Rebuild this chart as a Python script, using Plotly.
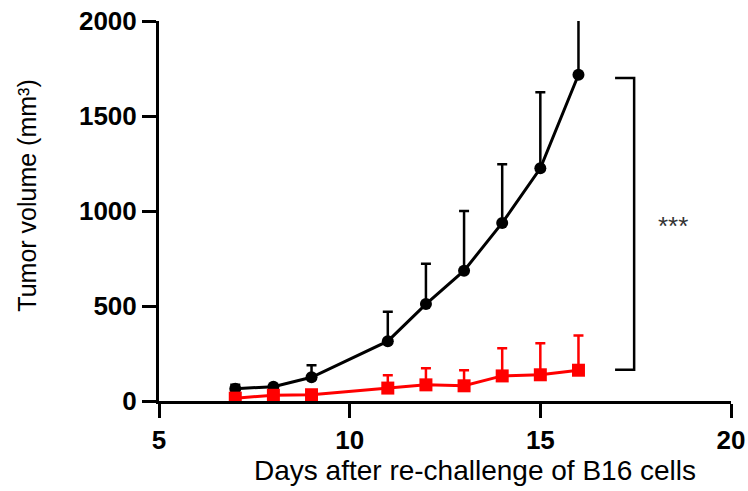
import plotly.graph_objects as go

days = [7, 8, 9, 11, 12, 13, 14, 15, 16]
control_mean = [65, 75, 125, 315, 510, 686, 937, 1225, 1717]
control_err = [20, 0, 63, 155, 212, 314, 309, 400, 330]
treated_mean = [15, 30, 33, 68, 85, 80, 132, 138, 162]
treated_err = [0, 0, 0, 68, 88, 82, 145, 166, 183]

x_ticks = [5, 10, 15, 20]
y_ticks = [0, 500, 1000, 1500, 2000]

FONT = "Liberation Sans, Arial"

fig = go.Figure()
fig.add_trace(go.Scatter(
    x=days, y=control_mean, mode="lines+markers",
    line=dict(color="black", width=3),
    marker=dict(symbol="circle", size=12, color="black"),
    error_y=dict(type="data", symmetric=False, array=control_err,
                 arrayminus=[0]*len(days), color="black", thickness=2.5, width=5),
    showlegend=False,
))
fig.add_trace(go.Scatter(
    x=days, y=treated_mean, mode="lines+markers",
    line=dict(color="#ff0000", width=3),
    marker=dict(symbol="square", size=13, color="#ff0000"),
    error_y=dict(type="data", symmetric=False, array=treated_err,
                 arrayminus=[0]*len(days), color="#ff0000", thickness=2.5, width=5),
    showlegend=False,
))

# significance bracket
fig.add_shape(type="path", xref="x", yref="y",
              path="M 16.96,1700 L 17.46,1700 L 17.46,164 L 16.96,164",
              line=dict(color="black", width=2.5))
fig.add_annotation(x=18.03, y=920, xref="x", yref="y", text="***", showarrow=False,
                   font=dict(family=FONT, size=26, color="#333"),
                   xanchor="left", yanchor="middle")

fig.add_annotation(x=0.553, y=-0.182, xref="paper", yref="paper",
                   text="Days after re-challenge of B16 cells", showarrow=False,
                   font=dict(family=FONT, size=28, color="black"),
                   xanchor="center", yanchor="middle")
fig.add_annotation(x=-0.231, y=0.54, xref="paper", yref="paper",
                   text="Tumor volume (mm³)", showarrow=False, textangle=-90,
                   font=dict(family=FONT, size=25, color="black"),
                   xanchor="center", yanchor="middle")

tickfont = dict(family=FONT, size=26, color="black", weight="bold")
fig.update_xaxes(range=[5, 20], tickvals=x_ticks, ticktext=[str(v) for v in x_ticks],
                 showline=True, linecolor="black", linewidth=3, ticks="outside",
                 ticklen=14, tickwidth=3, tickcolor="black", showgrid=False, zeroline=False,
                 tickfont=tickfont, automargin=False)
fig.update_yaxes(range=[0, 2000], tickvals=y_ticks, ticktext=[str(v) for v in y_ticks],
                 showline=True, linecolor="black", linewidth=3, ticks="outside",
                 ticklen=14, tickwidth=3, tickcolor="black", showgrid=False, zeroline=False,
                 tickfont=tickfont, automargin=False)

fig.update_layout(width=748, height=491, plot_bgcolor="white", paper_bgcolor="white",
                  margin=dict(l=158.5, r=17, t=21, b=89.5))
fig.write_html("out.html", config={"displayModeBar": False},
               post_script="document.body.style.margin='0';document.body.style.overflow='hidden';")
